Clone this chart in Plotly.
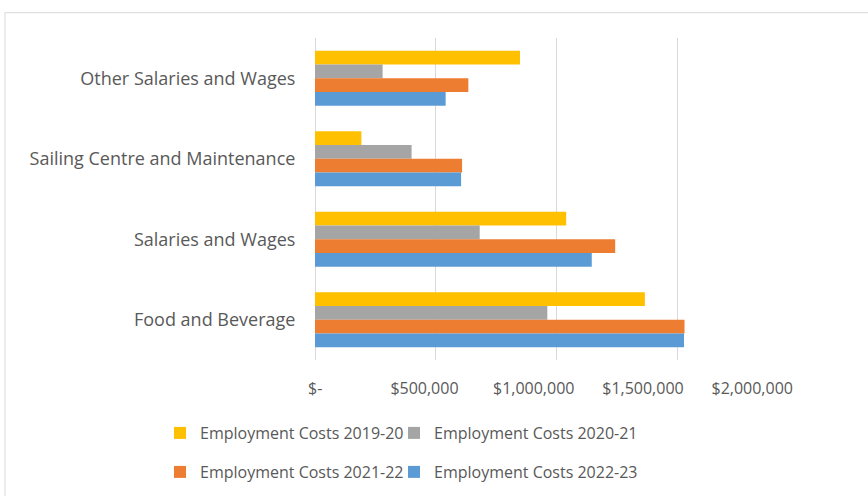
import plotly.graph_objects as go

# ---- data ----
categories = ["Other Salaries and Wages", "Sailing Centre and Maintenance",
              "Salaries and Wages", "Food and Beverage"]
series_names = ["Employment Costs 2019-20", "Employment Costs 2020-21",
                "Employment Costs 2021-22", "Employment Costs 2022-23"]
costs_2019_20 = [849000, 192000, 1040000, 1366000]
costs_2020_21 = [280000, 400000, 682000, 962000]
costs_2021_22 = [635000, 609000, 1243000, 1530000]
costs_2022_23 = [541000, 605000, 1146000, 1528000]
tick_values = [0, 500000, 1000000, 1500000, 2000000]
tick_labels = ["$-", "$500,000", "$1,000,000", "$1,500,000", "$2,000,000"]

series_values = [costs_2019_20, costs_2020_21, costs_2021_22, costs_2022_23]
colors = ["#FFC000", "#A5A5A5", "#ED7D31", "#5B9BD5"]

# ---- layout geometry ----
W, H = 868, 496
L, R, T, B = 315, 70, 38, 136
PW, PH = W - L - R, H - T - B


def px_x(px):
    return (px - L) / PW


def px_y(py):
    return (H - B - py) / PH


FONT = "Open Sans"
TXT = "#595959"

fig = go.Figure()
legend_ids = ["legend", "legend2", "legend3", "legend4"]
for name, vals, col, lg in zip(series_names, series_values, colors, legend_ids):
    fig.add_trace(go.Bar(
        y=categories, x=vals, name=name, orientation="h",
        marker=dict(color=col, line=dict(width=0)),
        legend=lg,
    ))

# Excel-style label offset: labels drawn on an overlay axis
x0 = -1000
x1 = x0 + PW / 437.0 * 2000000

legend_pos = {"legend": (160, 433), "legend2": (394, 433),
              "legend3": (160, 472), "legend4": (394, 472)}
legends = {}
for k, (lx, ly) in legend_pos.items():
    legends[k] = dict(orientation="h", x=px_x(lx), y=px_y(ly), xanchor="left",
                      yanchor="middle", itemwidth=30,
                      font=dict(family=FONT, size=16, color=TXT),
                      bgcolor="rgba(0,0,0,0)")

fig.update_layout(
    width=W, height=H,
    margin=dict(l=L, r=R, t=T, b=B, pad=0, autoexpand=False),
    paper_bgcolor="white", plot_bgcolor="white",
    barmode="group", bargap=0.317, bargroupgap=0,
    font=dict(family=FONT, color=TXT, size=16),
    xaxis=dict(range=[0, 2000000], tickvals=tick_values, showticklabels=False,
               showgrid=True, gridcolor="#D9D9D9", gridwidth=1,
               zeroline=True, zerolinecolor="#D9D9D9", zerolinewidth=1,
               showline=False, fixedrange=True, automargin=False),
    xaxis2=dict(overlaying="x", anchor="y", side="bottom",
                range=[x0, x1], tickvals=tick_values, ticktext=tick_labels,
                showgrid=False, zeroline=False, showline=False,
                ticks="outside", ticklen=14, tickcolor="rgba(0,0,0,0)",
                tickfont=dict(family=FONT, size=16, color=TXT), automargin=False),
    yaxis=dict(autorange="reversed", showgrid=False, zeroline=False,
               showline=False, ticks="outside", ticklen=15,
               tickcolor="rgba(0,0,0,0)", automargin=False,
               tickfont=dict(family=FONT, size=18, color=TXT)),
    showlegend=True,
    **legends,
)

# dummy invisible trace so overlay axis is drawn
fig.add_trace(go.Scatter(x=[tick_values[0]], y=[categories[0]], xaxis="x2", yaxis="y",
                         mode="markers", marker=dict(opacity=0),
                         showlegend=False, hoverinfo="skip"))

# chart area border
fig.add_shape(type="rect", xref="paper", yref="paper",
              x0=px_x(5), x1=px_x(W + 20), y0=px_y(H + 20), y1=px_y(12.7),
              line=dict(color="#D9D9D9", width=1), fillcolor="rgba(0,0,0,0)",
              layer="below")

fig.write_html("out.html")
